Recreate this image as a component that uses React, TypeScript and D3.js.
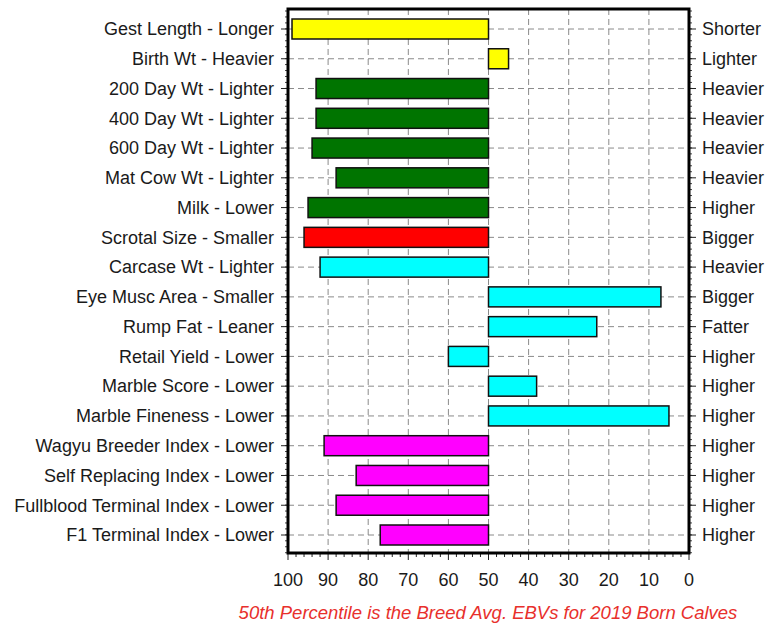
import { useEffect, useRef } from 'react';
import * as d3 from 'd3';

// traits, top to bottom
const traits = [
  'Gest Length - Longer', 'Birth Wt - Heavier', '200 Day Wt - Lighter', '400 Day Wt - Lighter',
  '600 Day Wt - Lighter', 'Mat Cow Wt - Lighter', 'Milk - Lower', 'Scrotal Size - Smaller',
  'Carcase Wt - Lighter', 'Eye Musc Area - Smaller', 'Rump Fat - Leaner', 'Retail Yield - Lower',
  'Marble Score - Lower', 'Marble Fineness - Lower', 'Wagyu Breeder Index - Lower',
  'Self Replacing Index - Lower', 'Fullblood Terminal Index - Lower', 'F1 Terminal Index - Lower',
];
const rightLabels = [
  'Shorter', 'Lighter', 'Heavier', 'Heavier', 'Heavier', 'Heavier', 'Higher', 'Bigger', 'Heavier',
  'Bigger', 'Fatter', 'Higher', 'Higher', 'Higher', 'Higher', 'Higher', 'Higher', 'Higher',
];
// percentile reached by each bar (bars start at 50)
const percentiles = [99, 45, 93, 93, 94, 88, 95, 96, 92, 7, 23, 60, 38, 5, 91, 83, 88, 77];
const groups = [
  'a', 'a', 'b', 'b', 'b', 'b', 'b', 'c', 'd', 'd', 'd', 'd', 'd', 'd', 'e', 'e', 'e', 'e',
];
const groupColors: Record<string, string> = {
  a: '#ffff00', b: '#007400', c: '#ff0000', d: '#00ffff', e: '#ff00ff',
};
const xTicks = [100, 90, 80, 70, 60, 50, 40, 30, 20, 10, 0];
const footnote = '50th Percentile is the Breed Avg. EBVs for 2019 Born Calves';

const W = 766, H = 623;
const left = 288, right = 689, top = 9, bottom = 553;
const font = 'Arial, "Liberation Sans", sans-serif';

export default function App() {
  const ref = useRef<SVGSVGElement>(null);

  useEffect(() => {
    const svg = d3.select(ref.current);
    svg.selectAll('*').remove();

    const x = d3.scaleLinear().domain([100, 0]).range([left, right]);
    const y = d3.scalePoint<string>().domain(traits).range([29, 535]);
    const barH = 20;

    const g = svg.append('g');

    // grid
    g.selectAll('line.hg').data(traits).enter().append('line')
      .attr('x1', left).attr('x2', right)
      .attr('y1', d => y(d)!).attr('y2', d => y(d)!)
      .attr('stroke', '#8a8a8a').attr('stroke-dasharray', '6,4');
    g.selectAll('line.vg').data(xTicks.filter(t => t > 0 && t < 100)).enter().append('line')
      .attr('x1', d => x(d)).attr('x2', d => x(d))
      .attr('y1', top).attr('y2', bottom)
      .attr('stroke', '#8a8a8a').attr('stroke-dasharray', '6,4');

    // bars
    g.selectAll('rect.bar').data(traits).enter().append('rect')
      .attr('x', (d, i) => Math.min(x(50), x(percentiles[i])))
      .attr('width', (d, i) => Math.abs(x(percentiles[i]) - x(50)))
      .attr('y', d => y(d)! - barH / 2)
      .attr('height', barH)
      .attr('fill', (d, i) => groupColors[groups[i]])
      .attr('stroke', '#111').attr('stroke-width', 1.5);

    // minor ticks bottom
    const minor = d3.range(0, 101, 2);
    g.selectAll('line.mb').data(minor).enter().append('line')
      .attr('x1', d => x(d)).attr('x2', d => x(d))
      .attr('y1', bottom).attr('y2', d => bottom + (d % 10 === 0 ? 7 : 4))
      .attr('stroke', '#222');
    // minor ticks on sides
    const step = y.step();
    const sideMinor = d3.range(top + 2, bottom, step / 5);
    [left, right].forEach((sx, k) => {
      const dir = k === 0 ? -1 : 1;
      g.selectAll(`line.ms${k}`).data(sideMinor).enter().append('line')
        .attr('x1', sx).attr('x2', sx + dir * 3)
        .attr('y1', d => d).attr('y2', d => d)
        .attr('stroke', '#444');
      g.selectAll(`line.mj${k}`).data(traits).enter().append('line')
        .attr('x1', sx).attr('x2', sx + dir * 7)
        .attr('y1', d => y(d)!).attr('y2', d => y(d)!)
        .attr('stroke', '#222');
    });

    // frame
    g.append('rect')
      .attr('x', left).attr('y', top)
      .attr('width', right - left).attr('height', bottom - top)
      .attr('fill', 'none').attr('stroke', '#000').attr('stroke-width', 3);

    // labels
    g.selectAll('text.ll').data(traits).enter().append('text')
      .attr('x', left - 14).attr('y', d => y(d)!).attr('dy', '0.35em')
      .attr('text-anchor', 'end').attr('font-family', font).attr('font-size', 18)
      .attr('fill', '#1a1a1a').text(d => d);
    g.selectAll('text.rl').data(traits).enter().append('text')
      .attr('x', right + 13).attr('y', d => y(d)!).attr('dy', '0.35em')
      .attr('font-family', font).attr('font-size', 18)
      .attr('fill', '#1a1a1a').text((d, i) => rightLabels[i]);
    g.selectAll('text.xt').data(xTicks).enter().append('text')
      .attr('x', d => x(d)).attr('y', 586)
      .attr('text-anchor', 'middle').attr('font-family', font).attr('font-size', 18)
      .attr('fill', '#1a1a1a').text(d => d);

    g.append('text')
      .attr('x', 488).attr('y', 619)
      .attr('text-anchor', 'middle').attr('font-family', font).attr('font-size', 18.5)
      .attr('font-style', 'italic').attr('fill', '#e8302c').text(footnote);
  }, []);

  return (
    <svg ref={ref} width={W} height={H}
      style={{ position: 'absolute', left: 0, top: 0, background: '#fff' }} />
  );
}
